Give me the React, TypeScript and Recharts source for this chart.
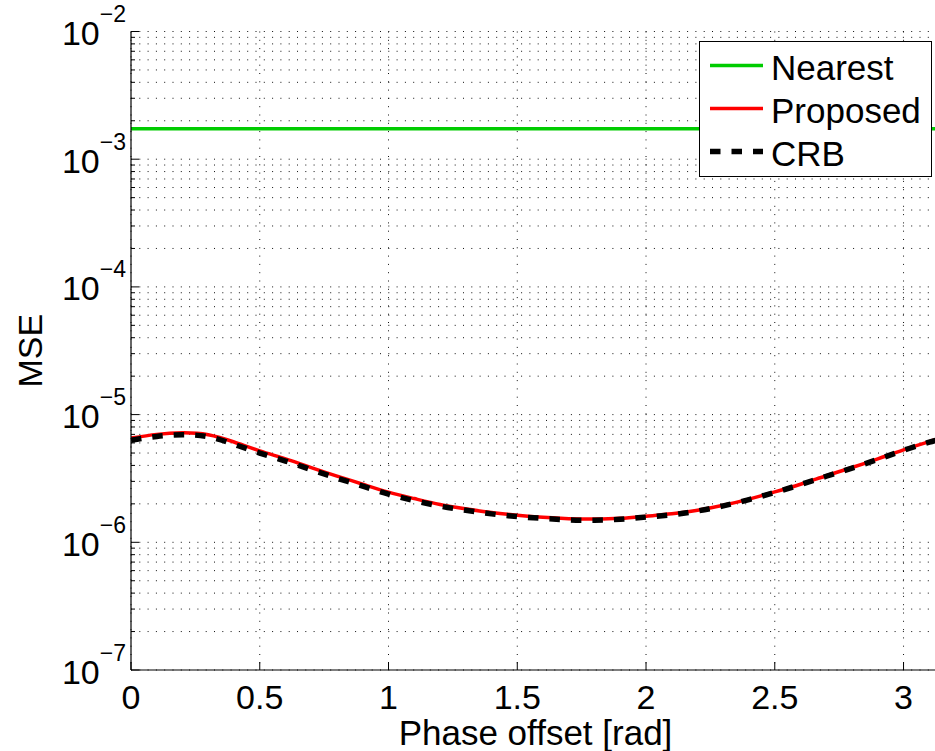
import React from "react";
import { CartesianGrid, Legend, Line, LineChart, XAxis, YAxis } from "recharts";

// phase offset samples [rad]
const PHASE = [
	0, 0.1, 0.2, 0.3, 0.4, 0.5, 0.6, 0.7, 0.8, 0.9, 1.0, 1.1, 1.2, 1.3, 1.4, 1.5,
	1.6, 1.7, 1.8, 1.9, 2.0, 2.1, 2.2, 2.3, 2.4, 2.5, 2.6, 2.7, 2.8, 2.9, 3.0, 3.1,
	3.1416
];

const PROPOSED = [
	6.55e-6, 7.0e-6, 7.2e-6, 6.95e-6, 6.1e-6, 5.2e-6, 4.5e-6, 3.85e-6, 3.3e-6,
	2.85e-6, 2.47e-6, 2.2e-6, 1.98e-6, 1.83e-6, 1.71e-6, 1.63e-6, 1.57e-6, 1.53e-6,
	1.52e-6, 1.54e-6, 1.6e-6, 1.67e-6, 1.78e-6, 1.95e-6, 2.18e-6, 2.48e-6, 2.85e-6,
	3.32e-6, 3.85e-6, 4.5e-6, 5.3e-6, 6.15e-6, 6.5e-6
];

const CRB = [
	6.3e-6, 6.75e-6, 6.95e-6, 6.7e-6, 5.85e-6, 5.0e-6, 4.33e-6, 3.7e-6, 3.18e-6,
	2.75e-6, 2.38e-6, 2.12e-6, 1.92e-6, 1.78e-6, 1.67e-6, 1.59e-6, 1.54e-6, 1.5e-6,
	1.49e-6, 1.515e-6, 1.575e-6, 1.645e-6, 1.76e-6, 1.93e-6, 2.16e-6, 2.46e-6,
	2.83e-6, 3.29e-6, 3.81e-6, 4.46e-6, 5.25e-6, 6.08e-6, 6.42e-6
];

// nearest-neighbour estimator is flat over the whole range
const NEAREST_PHASE = [0, 3.1416];
const NEAREST = [1.73e-3, 1.73e-3];

const X_TICKS = [0, 0.5, 1, 1.5, 2, 2.5, 3];
const Y_EXPONENTS = [-7, -6, -5, -4, -3, -2];
const MINOR_STEPS = [2, 3, 4, 5, 6, 7, 8, 9];

const FONT = '"Liberation Sans", Arial, Helvetica, sans-serif';

const data = PHASE.map((p, i) => ({ phase: p, proposed: PROPOSED[i], crb: CRB[i] }));
const nearestData = NEAREST_PHASE.map((p, i) => ({ phase: p, nearest: NEAREST[i] }));

const yMajor = Y_EXPONENTS.map((e) => Math.pow(10, e));
const yTicks = [
	...yMajor,
	...Y_EXPONENTS.slice(0, -1).flatMap((e) => MINOR_STEPS.map((m) => m * Math.pow(10, e)))
].sort((a, b) => a - b);

const SERIES = [
	{ name: "Nearest", color: "#00cc00", width: 3.5, dash: undefined as string | undefined },
	{ name: "Proposed", color: "#ff0000", width: 3.5, dash: undefined as string | undefined },
	{ name: "CRB", color: "#000000", width: 5.5, dash: "10.5 11" }
];

function YTick(props: any) {
	const { x, y, payload } = props;
	const idx = yMajor.indexOf(payload.value);
	const major = idx >= 0;
	return (
		<g>
			<line x1={x} x2={x + (major ? 8 : 4)} y1={y} y2={y} stroke="#000" strokeWidth={1} />
			{major && (
				<text x={x - 5} y={y + 13.5} textAnchor="end" fontSize={34} fontFamily={FONT} fill="#000">
					<tspan>10</tspan>
					<tspan fontSize={23} dy={-23}>
						{"\u2212" + Math.abs(Y_EXPONENTS[idx])}
					</tspan>
				</text>
			)}
		</g>
	);
}

function XTick(props: any) {
	const { x, y, payload } = props;
	return (
		<g>
			<line x1={x} x2={x} y1={y} y2={y - 8} stroke="#000" strokeWidth={1} />
			<text x={x} y={y + 39} textAnchor="middle" fontSize={34} fontFamily={FONT} fill="#000">
				{String(payload.value)}
			</text>
		</g>
	);
}

function LegendBox() {
	return (
		<svg width={233} height={136} style={{ display: "block" }}>
			<rect x={0.5} y={0.5} width={232} height={135} fill="#fff" stroke="#000" strokeWidth={1} />
			{SERIES.map((s, i) => (
				<g key={s.name}>
					<line
						x1={11}
						x2={64}
						y1={24.6 + i * 43}
						y2={24.6 + i * 43}
						stroke={s.color}
						strokeWidth={s.width}
						strokeDasharray={s.dash}
					/>
					<text x={72} y={38.6 + i * 43} fontSize={35} fontFamily={FONT} fill="#000">
						{s.name}
					</text>
				</g>
			))}
		</svg>
	);
}

export default function App() {
	return (
		<div
			style={{
				position: "fixed",
				left: 0,
				top: 0,
				width: 935,
				height: 751,
				overflow: "hidden",
				background: "#fff"
			}}
		>
			<LineChart width={940} height={751} margin={{ top: 31.5, right: 0, bottom: 0, left: 0 }}>
				<CartesianGrid stroke="#111" strokeWidth={1} strokeDasharray="1 7.3" />
				<XAxis
					type="number"
					dataKey="phase"
					domain={[0, PHASE[PHASE.length - 1]]}
					allowDataOverflow
					ticks={X_TICKS}
					interval={0}
					height={81}
					tickSize={0}
					tickMargin={0}
					tickLine={false}
					axisLine={{ stroke: "#000", strokeWidth: 1.2 }}
					tick={XTick}
					label={{
						content: (p: any) => {
							const vb = p.viewBox;
							return (
								<text
									x={vb.x + vb.width / 2}
									y={vb.y + 74.5}
									textAnchor="middle"
									fontSize={35}
									fontFamily={FONT}
									fill="#000"
								>
									Phase offset [rad]
								</text>
							);
						}
					}}
				/>
				<YAxis
					type="number"
					scale="log"
					domain={[1e-7, 1e-2]}
					allowDataOverflow
					ticks={yTicks}
					interval={0}
					width={131}
					tickSize={0}
					tickMargin={0}
					tickLine={false}
					axisLine={{ stroke: "#000", strokeWidth: 1.2 }}
					tick={YTick}
					label={{
						content: (p: any) => {
							const vb = p.viewBox;
							const cy = vb.y + vb.height / 2;
							return (
								<text
									x={42}
									y={cy}
									transform={`rotate(-90 42 ${cy})`}
									textAnchor="middle"
									fontSize={34}
									fontFamily={FONT}
									fill="#000"
								>
									MSE
								</text>
							);
						}
					}}
				/>
				<Legend
					layout="horizontal"
					verticalAlign="middle"
					align="center"
					wrapperStyle={{ left: 699, top: 40.7, width: 233, height: 136 }}
					content={LegendBox}
				/>
				<Line
					data={nearestData}
					dataKey="nearest"
					name="Nearest"
					type="linear"
					stroke={SERIES[0].color}
					strokeWidth={SERIES[0].width}
					dot={false}
					activeDot={false}
					isAnimationActive={false}
				/>
				<Line
					data={data}
					dataKey="proposed"
					name="Proposed"
					type="natural"
					stroke={SERIES[1].color}
					strokeWidth={SERIES[1].width}
					dot={false}
					activeDot={false}
					isAnimationActive={false}
				/>
				<Line
					data={data}
					dataKey="crb"
					name="CRB"
					type="natural"
					stroke={SERIES[2].color}
					strokeWidth={SERIES[2].width}
					strokeDasharray={SERIES[2].dash}
					dot={false}
					activeDot={false}
					isAnimationActive={false}
				/>
			</LineChart>
		</div>
	);
}
